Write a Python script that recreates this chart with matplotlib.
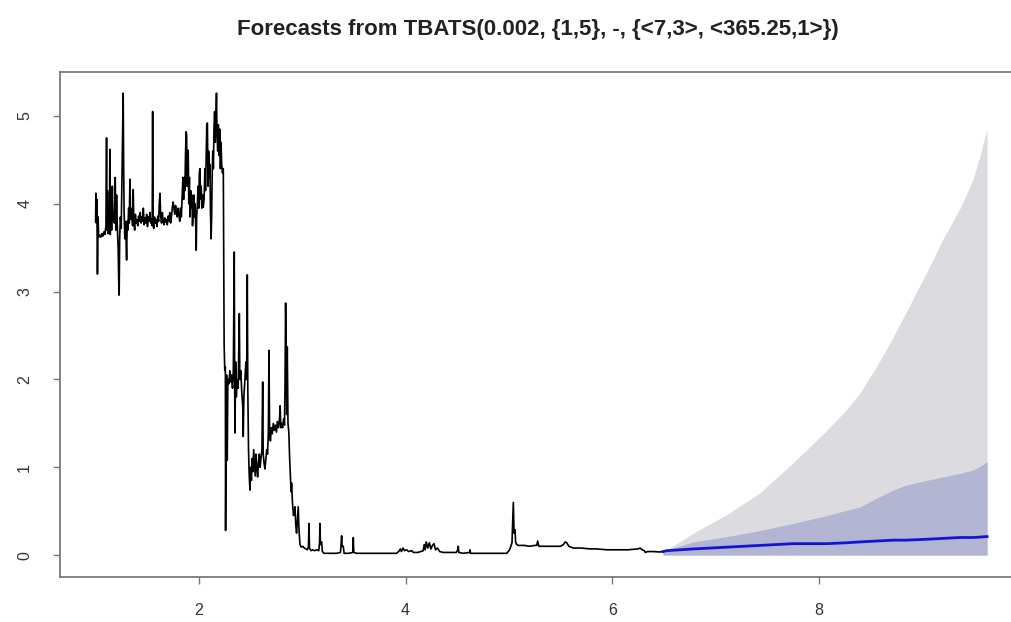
import numpy as np
import matplotlib
matplotlib.use("Agg")
import matplotlib.pyplot as plt

#%% Datos

# Serie observada (tiempo, valor)
hist_t = [
    1.000, 1.003, 1.008, 1.012, 1.018, 1.024, 1.030, 1.040, 1.050, 1.060,
    1.070, 1.080, 1.090, 1.100, 1.106, 1.110, 1.115, 1.120, 1.128, 1.134,
    1.138, 1.142, 1.148, 1.155, 1.162, 1.168, 1.175, 1.182, 1.190, 1.196,
    1.203, 1.210, 1.218, 1.224, 1.228, 1.233, 1.240, 1.248, 1.255, 1.262,
    1.267, 1.271, 1.276, 1.283, 1.290, 1.300, 1.306, 1.312, 1.320, 1.326,
    1.332, 1.338, 1.345, 1.352, 1.358, 1.364, 1.370, 1.378, 1.385, 1.392,
    1.400, 1.408, 1.416, 1.424, 1.432, 1.440, 1.448, 1.455, 1.462, 1.470,
    1.478, 1.486, 1.494, 1.502, 1.510, 1.518, 1.526, 1.534, 1.542, 1.548,
    1.552, 1.556, 1.562, 1.570, 1.578, 1.586, 1.594, 1.602, 1.610, 1.616,
    1.623, 1.630, 1.638, 1.646, 1.654, 1.662, 1.670, 1.678, 1.686, 1.694,
    1.702, 1.710, 1.718, 1.726, 1.734, 1.742, 1.750, 1.758, 1.766, 1.774,
    1.782, 1.790, 1.798, 1.806, 1.814, 1.822, 1.830, 1.838, 1.845, 1.852,
    1.858, 1.864, 1.870, 1.876, 1.881, 1.886, 1.891, 1.896, 1.902, 1.908,
    1.913, 1.920, 1.926, 1.932, 1.938, 1.944, 1.950, 1.956, 1.962, 1.968,
    1.974, 1.978, 1.985, 1.992, 1.998, 2.004, 2.010, 2.016, 2.022, 2.028,
    2.035, 2.042, 2.050, 2.058, 2.064, 2.070, 2.076, 2.082, 2.088, 2.094,
    2.100, 2.106, 2.112, 2.118, 2.123, 2.128, 2.134, 2.140, 2.146, 2.152,
    2.158, 2.164, 2.170, 2.175, 2.182, 2.188, 2.195, 2.202, 2.208, 2.214,
    2.220, 2.228, 2.234,
    2.236, 2.240, 2.244, 2.250, 2.256, 2.258, 2.262, 2.268, 2.274, 2.280,
    2.290, 2.300, 2.310, 2.316, 2.325, 2.333, 2.342, 2.346, 2.349, 2.355,
    2.362, 2.370, 2.380, 2.386, 2.391, 2.396, 2.405, 2.415, 2.424, 2.429,
    2.435, 2.445, 2.455, 2.462, 2.468, 2.473, 2.480, 2.487, 2.494, 2.500,
    2.508, 2.515, 2.522, 2.530, 2.538, 2.545, 2.552, 2.560, 2.568, 2.576,
    2.584, 2.592, 2.600, 2.610, 2.617, 2.622, 2.630, 2.639, 2.648, 2.656,
    2.664, 2.672, 2.678, 2.684, 2.692, 2.700, 2.710, 2.720, 2.730, 2.740,
    2.750, 2.760, 2.770, 2.780, 2.786, 2.792, 2.800, 2.810, 2.820, 2.828,
    2.833, 2.839, 2.845, 2.850, 2.855, 2.862, 2.870, 2.878, 2.885, 2.892,
    2.897, 2.905, 2.915, 2.925, 2.929, 2.937, 2.945, 2.953, 2.961, 2.968,
    2.978, 2.990, 3.005, 3.020, 3.035, 3.050, 3.060, 3.065, 3.070, 3.085,
    3.100, 3.120, 3.140, 3.160, 3.168, 3.171, 3.176, 3.187, 3.195, 3.210,
    3.250, 3.300, 3.333, 3.370, 3.376, 3.381, 3.386, 3.397, 3.405, 3.450,
    3.490, 3.494, 3.499, 3.527, 3.600, 3.700, 3.800, 3.914, 3.940, 3.950,
    3.960, 3.975, 3.990, 4.010, 4.030, 4.060, 4.075, 4.120, 4.171, 4.180,
    4.190, 4.200, 4.215, 4.230, 4.245, 4.260, 4.275, 4.290, 4.310, 4.330,
    4.365, 4.420, 4.490, 4.505, 4.510, 4.515, 4.560, 4.620, 4.623, 4.630,
    4.700, 4.800, 4.900, 4.979, 5.000, 5.010, 5.030, 5.043, 5.050, 5.059,
    5.065, 5.075, 5.091, 5.150, 5.200, 5.250, 5.269, 5.279, 5.290, 5.350,
    5.420, 5.500, 5.527, 5.545, 5.560, 5.580, 5.624, 5.700, 5.785, 5.850,
    5.950, 6.050, 6.150, 6.250, 6.270, 6.290, 6.310, 6.320, 6.340, 6.400,
    6.460, 6.492,
]
hist_y = [
    3.80, 4.12, 3.78, 4.05, 3.20, 3.85, 3.62, 3.64, 3.62, 3.66,
    3.63, 3.68, 3.65, 3.75, 4.75, 3.70, 4.15, 3.66, 4.00, 3.75,
    4.62, 3.65, 4.05, 3.70, 4.20, 3.80, 3.90, 3.78, 4.30, 3.70,
    4.10, 3.75, 3.50, 3.10, 2.96, 3.60, 3.85, 3.72, 4.30, 4.95,
    5.26, 4.50, 3.90, 3.60, 3.80, 3.36, 3.80, 3.70, 3.95, 3.78,
    4.28, 3.90, 3.82, 3.95, 3.75, 4.16, 3.80, 3.70, 3.88, 3.78,
    3.82, 3.75, 3.86, 3.80, 3.90, 3.78, 3.85, 3.80, 3.95, 3.76,
    3.84, 3.78, 3.88, 3.74, 3.85, 3.80, 3.90, 3.78, 3.82, 3.75,
    5.05, 3.80, 3.72, 3.85, 3.78, 3.82, 3.74, 3.86, 3.80, 4.00,
    4.12, 3.85, 3.78, 3.90, 3.80, 3.76, 3.84, 3.79, 3.82, 3.76,
    3.86, 3.80, 3.90, 3.78, 3.85, 3.95, 4.02, 3.95, 3.88, 3.98,
    3.90, 3.85, 3.95, 3.88, 3.80, 3.95, 3.85, 4.10, 4.30, 4.05,
    4.30, 4.15, 4.55, 4.82, 4.78, 4.20, 4.55, 4.61, 4.00, 4.30,
    3.85, 4.15, 3.95, 4.10, 3.75, 3.90, 4.10, 3.85, 4.00, 3.80,
    3.47, 3.85, 4.00, 4.20, 3.95, 4.35, 4.40, 4.05, 4.20, 3.95,
    4.10, 3.96, 4.05, 4.40, 4.15, 4.55, 4.90, 4.92, 4.20, 4.60,
    4.30, 4.45, 3.90, 3.60, 3.85, 4.30, 4.60, 4.40, 4.88, 5.05,
    4.70, 5.00, 5.26, 4.80, 4.60, 4.90, 4.55, 4.85, 4.40, 4.70,
    4.45, 4.35, 4.40,
    4.40, 3.50, 2.40, 2.10, 2.14, 0.28, 1.20, 2.05, 1.08, 2.00,
    1.95, 2.10, 1.97, 2.05, 1.90, 2.10, 3.45, 1.90, 1.39, 2.20,
    1.80, 2.00, 1.90, 2.40, 2.75, 2.00, 2.10, 1.85, 1.70, 1.35,
    1.80, 2.00, 2.20, 2.00, 3.19, 1.90, 1.20, 0.90, 0.74, 1.00,
    0.85, 1.10, 0.95, 1.20, 1.05, 0.90, 1.15, 1.00, 0.89, 1.05,
    1.15, 1.00, 1.10, 1.20, 1.97, 1.15, 1.05, 0.98, 1.10, 1.20,
    1.15, 1.40, 2.33, 1.40, 1.30, 1.45, 1.38, 1.50, 1.42, 1.48,
    1.40, 1.52, 1.45, 1.55, 1.70, 1.45, 1.50, 1.45, 1.55, 1.48,
    1.90, 2.87, 2.30, 1.60, 2.37, 1.50, 1.40, 1.10, 0.90, 0.72,
    0.82, 0.60, 0.45, 0.50, 0.55, 0.35, 0.25, 0.40, 0.55, 0.30,
    0.12, 0.09, 0.10, 0.08, 0.07, 0.06, 0.10, 0.36, 0.08, 0.05,
    0.06, 0.05, 0.06, 0.05, 0.15, 0.36, 0.12, 0.15, 0.04, 0.02,
    0.02, 0.02, 0.02, 0.03, 0.12, 0.22, 0.10, 0.10, 0.02, 0.02,
    0.03, 0.20, 0.03, 0.02, 0.02, 0.02, 0.02, 0.02, 0.05, 0.07,
    0.04, 0.08, 0.05, 0.06, 0.04, 0.05, 0.03, 0.03, 0.05, 0.12,
    0.06, 0.15, 0.08, 0.14, 0.07, 0.11, 0.13, 0.06, 0.08, 0.04,
    0.03, 0.03, 0.03, 0.06, 0.10, 0.03, 0.02, 0.03, 0.06, 0.02,
    0.02, 0.02, 0.02, 0.02, 0.05, 0.07, 0.14, 0.60, 0.25, 0.29,
    0.15, 0.12, 0.11, 0.11, 0.10, 0.11, 0.11, 0.16, 0.10, 0.10,
    0.10, 0.10, 0.12, 0.15, 0.14, 0.10, 0.08, 0.08, 0.07, 0.07,
    0.06, 0.06, 0.06, 0.07, 0.08, 0.06, 0.05, 0.03, 0.04, 0.04,
    0.035, 0.04,
]

# Pronostico TBATS: media e intervalos 80% y 95%
fc_t    = [6.492, 6.528, 6.785, 7.108, 7.431, 7.750, 8.077, 8.270, 8.400,
           8.561, 8.718, 8.851, 9.044, 9.202, 9.367, 9.493, 9.561, 9.609,
           9.628]
fc_mean = [0.04, 0.05, 0.07, 0.09, 0.11, 0.13, 0.13, 0.14, 0.15,
           0.16, 0.17, 0.17, 0.18, 0.19, 0.20, 0.20, 0.205, 0.21,
           0.21]
lo80    = [0.0] * len(fc_t)
hi80    = [0.04, 0.06, 0.15, 0.21, 0.28, 0.36, 0.45, 0.51, 0.55,
           0.65, 0.74, 0.80, 0.85, 0.89, 0.93, 0.97, 1.01, 1.05,
           1.06]
lo95    = [0.0] * len(fc_t)
hi95    = [0.04, 0.06, 0.25, 0.46, 0.71, 1.05, 1.42, 1.66, 1.85,
           2.15, 2.48, 2.78, 3.22, 3.60, 3.95, 4.28, 4.55, 4.78,
           4.84]

titulo   = "Forecasts from TBATS(0.002, {1,5}, -, {<7,3>, <365.25,1>})"
xticks   = [2, 4, 6, 8]
yticks   = [0, 1, 2, 3, 4, 5]

#%% Grafico

plt.rcParams["font.family"] = ["Liberation Sans", "DejaVu Sans"]

fig = plt.figure(figsize=(10.11, 6.22), dpi=100)
ax = fig.add_axes([0.0593, 0.0723, 0.9525, 0.8119])

ax.plot(hist_t, hist_y, color="black", linewidth=1.2)
ax.fill_between(fc_t, lo95, hi95, color="#DCDCE0", linewidth=0)
ax.fill_between(fc_t, lo80, hi80, color="#B2B6D2", linewidth=0)
ax.plot(fc_t, fc_mean, color="#1414D8", linewidth=2.0)

ax.set_xlim(0.655, 9.975)
ax.set_ylim(-0.25, 5.50)
ax.set_xticks(xticks)
ax.set_yticks(yticks)

for s in ax.spines.values():
    s.set_color("#7a7a7a")
    s.set_linewidth(1.3)

ax.tick_params(axis="both", colors="#7a7a7a", length=5, width=1.0,
               labelcolor="#333333", labelsize=11.5)
ax.tick_params(axis="x", pad=14)
ax.tick_params(axis="y", pad=15)
for lab in ax.get_yticklabels():
    lab.set_rotation(90)
    lab.set_va("center")

fig.text(0.532, 0.952, titulo, ha="center", va="center",
         fontsize=16, fontweight="bold", color="#222222")

fig.savefig("out.png", dpi=100)
